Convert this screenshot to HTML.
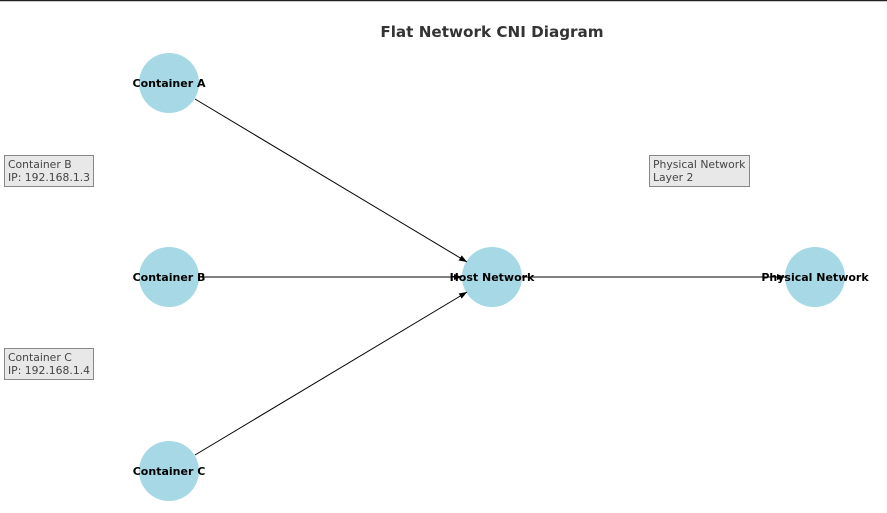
<!DOCTYPE html>
<html><head><meta charset="utf-8"><style>
html,body{margin:0;padding:0;background:#fff;}
svg{display:block;font-family:"DejaVu Sans","Liberation Sans",sans-serif;}
</style></head><body>
<svg width="887" height="513" viewBox="0 0 887 513" xmlns="http://www.w3.org/2000/svg">
<defs><marker id="ar" markerWidth="8" markerHeight="6" refX="8" refY="3" orient="auto" markerUnits="userSpaceOnUse"><path d="M0,0 L8,3 L0,6 z" fill="#000"/></marker></defs>
<line x1="0" y1="0.5" x2="887" y2="0.5" stroke="#222" stroke-width="1.5"/>
<text x="492" y="37" text-anchor="middle" font-size="15.2" font-weight="bold" fill="#333">Flat Network CNI Diagram</text>
<g fill="#a6d9e5">
<circle cx="169" cy="83" r="30"/><circle cx="169" cy="277" r="30"/><circle cx="169" cy="471" r="30"/>
<circle cx="492" cy="277" r="30"/><circle cx="815" cy="277" r="30"/>
</g>
<g stroke="#000" stroke-width="1" marker-end="url(#ar)">
<line x1="195" y1="99" x2="467" y2="262"/>
<line x1="199" y1="277" x2="462" y2="277"/>
<line x1="195" y1="455" x2="467" y2="292"/>
<line x1="522" y1="277" x2="785" y2="277"/>
</g>
<g font-size="11" font-weight="bold" fill="#000" text-anchor="middle">
<text x="169" y="87">Container A</text>
<text x="169" y="281">Container B</text>
<text x="169" y="475">Container C</text>
<text x="492" y="281">Host Network</text>
<text x="815" y="281">Physical Network</text>
</g>
<g fill="#e8e8e8" stroke="#888" stroke-width="1">
<rect x="4.5" y="155.5" width="89" height="31"/>
<rect x="4.5" y="348.5" width="89" height="31"/>
<rect x="649.5" y="155.5" width="100" height="31"/>
</g>
<g font-size="10.8" fill="#444">
<text x="8" y="168">Container B</text><text x="8" y="181">IP: 192.168.1.3</text>
<text x="8" y="361">Container C</text><text x="8" y="374">IP: 192.168.1.4</text>
<text x="653" y="168">Physical Network</text><text x="653" y="181">Layer 2</text>
</g>
</svg>
</body></html>
